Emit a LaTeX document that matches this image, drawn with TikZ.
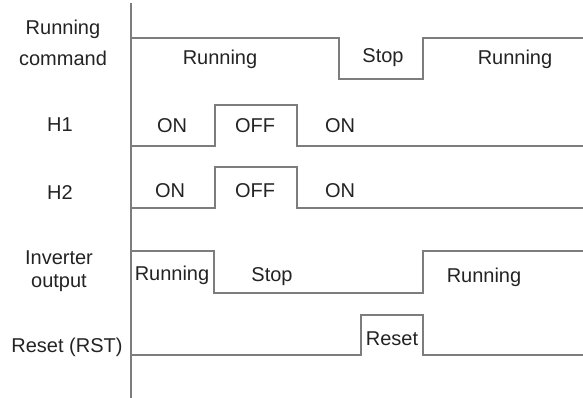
\documentclass[tikz,border=0pt]{standalone}
\usepackage{fontspec}
\setmainfont{Liberation Sans}
\definecolor{wavegray}{RGB}{125,125,125}
\definecolor{textdark}{RGB}{35,35,35}
\tikzset{
  wave/.style      = {draw=wavegray, line width=1.4pt, line join=miter},
  axisline/.style  = {draw=wavegray, line width=1.4pt},
  signame/.style   = {align=center, text=textdark, inner sep=0pt,
                      font=\fontsize{20}{30.5}\selectfont},
  statetext/.style = {anchor=base, text=textdark, inner sep=0pt,
                      font=\fontsize{20}{24}\selectfont},
}

\begin{document}
\begin{tikzpicture}[x=1pt, y=-1pt]
  \useasboundingbox (0,0) rectangle (583,398);

  %─── Time axis ─────────────────────────────────────────────────────────────
  \coordinate (axtop) at (131,3);
  \coordinate (axbot) at (131,398);
  \draw[axisline] (axtop) -- (axbot);

  %─── Signal names (left) ───────────────────────────────────────────────────
  \node[signame] at (63,43)    (cmdname) {Running\\command};
  \node[statetext] at (60,132) (hone)    {H1};
  \node[statetext] at (60,200) (htwo)    {H2};
  \node[signame, font=\fontsize{20}{23}\selectfont] at (59,271.5) (invname) {Inverter\\output};
  \node[statetext] at (67,352) (rstname) {Reset (RST)};

  %─── Running command ───────────────────────────────────────────────────────
  \draw[wave] (131,38) -- (339,38) -- (339,79) -- (423,79) -- (423,38) -- (583,38);
  \node[statetext] at (220,65) (cmdrun)  {Running};
  \node[statetext] at (383,63) (cmdstop) {Stop};
  \node[statetext] at (515,65) (cmdrun2) {Running};

  %─── H1 ────────────────────────────────────────────────────────────────────
  \draw[wave] (131,146) -- (215,146) -- (215,105) -- (297,105) -- (297,146) -- (583,146);
  \node[statetext] at (172,133) (honeon)   {ON};
  \node[statetext] at (255,133) (honeoff)  {OFF};
  \node[statetext] at (340,133) (honeon2)  {ON};

  %─── H2 ────────────────────────────────────────────────────────────────────
  \draw[wave] (131,208) -- (215,208) -- (215,167) -- (297,167) -- (297,208) -- (583,208);
  \node[statetext] at (170,197) (htwoon)   {ON};
  \node[statetext] at (255,197) (htwooff)  {OFF};
  \node[statetext] at (340,197) (htwoon2)  {ON};

  %─── Inverter output ───────────────────────────────────────────────────────
  \draw[wave] (131,251) -- (214,251) -- (214,293) -- (423,293) -- (423,251) -- (583,251);
  \node[statetext] at (172,280) (invrun)  {Running};
  \node[statetext] at (272,281) (invstop) {Stop};
  \node[statetext] at (484,282) (invrun2) {Running};

  %─── Reset (RST) ───────────────────────────────────────────────────────────
  \draw[wave] (131,355) -- (361,355) -- (361,315) -- (423,315) -- (423,355) -- (583,355);
  \node[statetext] at (392,345) (rstpulse) {Reset};

\end{tikzpicture}
\end{document}
